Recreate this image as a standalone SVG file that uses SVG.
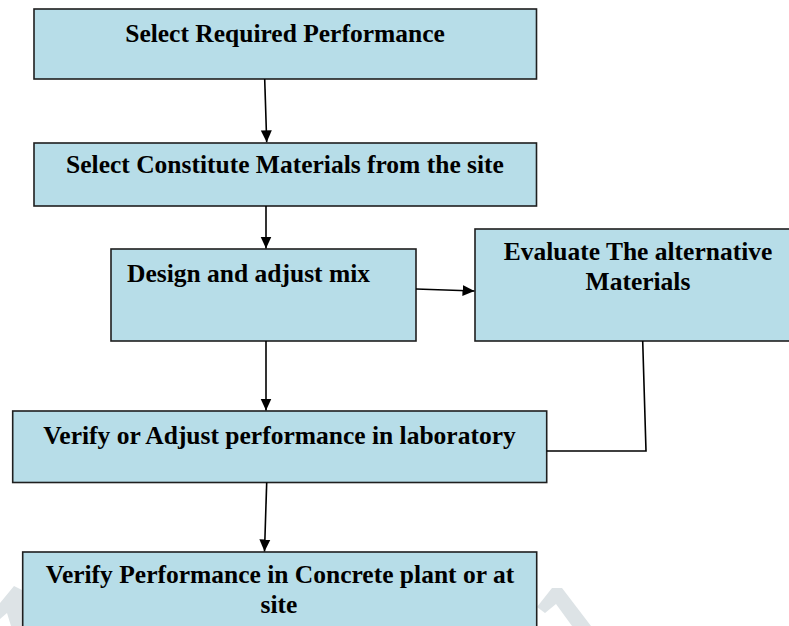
<svg xmlns="http://www.w3.org/2000/svg" width="789" height="626" viewBox="0 0 789 626">
<style>
.box{fill:#b7dde8;stroke:#1f1f1f;stroke-width:1.6}
.t{font-family:"Liberation Serif","Times New Roman",serif;font-weight:bold;font-size:25.5px;fill:#000}
.c{text-anchor:middle}
.ln{fill:none;stroke:#000;stroke-width:1.6}
.wm{fill:#dde3e6}
</style>
<defs>
<marker id="ah" viewBox="0 0 12 12" refX="12" refY="6" markerWidth="12" markerHeight="12" markerUnits="userSpaceOnUse" orient="auto">
<path d="M0,0.5 L12,6 L0,11.5 z" fill="#000"/>
</marker>
</defs>
<rect width="789" height="626" fill="#fff"/>
<g id="watermark">
<polygon class="wm" points="0,603 14,586 22,590 22,626 11,626 7,613 0,619"/>
<polygon class="wm" points="537,607 552,588 562,588 591,626 572,626 556,604 545,613"/>
</g>
<g id="n1"><rect class="box" x="34" y="9" width="502.5" height="70"/><text class="t c" x="285" y="42">Select Required Performance</text></g>
<g id="n2"><rect class="box" x="34" y="143" width="502.5" height="63"/><text class="t c" x="285" y="173">Select Constitute Materials from the site</text></g>
<g id="n3"><rect class="box" x="111" y="249" width="305" height="92"/><text class="t" x="127" y="282">Design and adjust mix</text></g>
<g id="n4"><rect class="box" x="475" y="229" width="326" height="112"/><text class="t c" x="638" y="260">Evaluate The alternative</text><text class="t c" x="638" y="290">Materials</text></g>
<g id="n5"><rect class="box" x="12.7" y="411" width="534" height="71.5"/><text class="t c" x="279.5" y="444">Verify or Adjust performance in laboratory</text></g>
<g id="n6"><rect class="box" x="22.7" y="552" width="514" height="90"/><text class="t c" x="280" y="583">Verify Performance in Concrete plant or at</text><text class="t c" x="279" y="613">site</text></g>
<g id="connectors">
<line class="ln" x1="264.7" y1="79" x2="266.7" y2="142.3" marker-end="url(#ah)"/>
<line class="ln" x1="266" y1="206" x2="266" y2="248.5" marker-end="url(#ah)"/>
<line class="ln" x1="416" y1="289" x2="474.5" y2="291" marker-end="url(#ah)"/>
<line class="ln" x1="266" y1="341" x2="266" y2="410.5" marker-end="url(#ah)"/>
<line class="ln" x1="266.7" y1="482.5" x2="264.5" y2="551.5" marker-end="url(#ah)"/>
<polyline class="ln" stroke-width="1.3" points="642.7,341 646,451 546.7,451"/>
</g>
</svg>
